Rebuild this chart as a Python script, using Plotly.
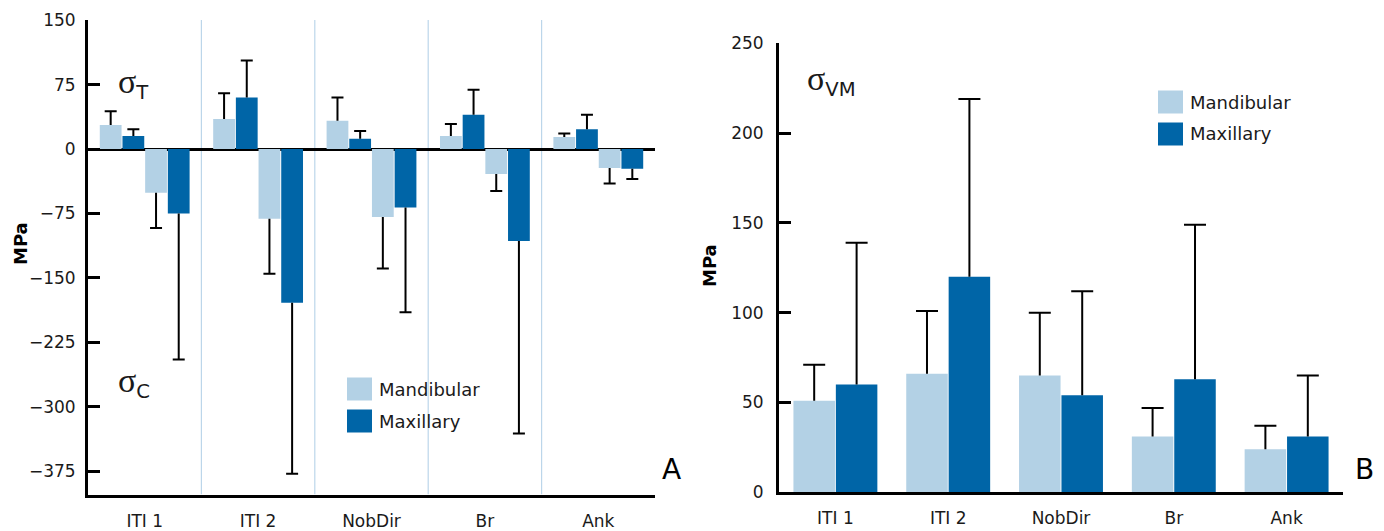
import numpy as np
import plotly.graph_objects as go

# ---------------- data ----------------
categories = ["ITI 1", "ITI 2", "NobDir", "Br", "Ank"]

# Panel A: tensile (sigma_T, positive) and compressive (sigma_C, negative) stress, MPa
tension_mand = [28, 35, 33, 15, 14]
tension_mand_sd = [16, 30, 27, 14, 4]
tension_max = [15, 60, 12, 40, 23]
tension_max_sd = [8, 43, 9, 29, 17]
compress_mand = [-51, -81, -79, -29, -22]
compress_mand_sd = [41, 64, 60, 20, 18]
compress_max = [-75, -179, -68, -107, -23]
compress_max_sd = [170, 199, 122, 224, 12]

# Panel B: von Mises stress, MPa
vm_mand = [51, 66, 65, 31, 24]
vm_mand_sd = [20, 35, 35, 16, 13]
vm_max = [60, 120, 54, 63, 31]
vm_max_sd = [79, 99, 58, 86, 34]

ticks_a = [-375, -300, -225, -150, -75, 0, 75, 150]
ticks_b = [0, 50, 100, 150, 200, 250]
series_names = ["Mandibular", "Maxillary"]

# ---------------- style ----------------
W, H = 1384, 531
LIGHT = "#b3d1e5"
DARK = "#0065a7"
SEP = "#bcd6ea"
TXT = "#1a1a1a"
FONT = "DejaVu Sans"


def px(x):
    return x / W


def py(y):
    return 1 - y / H


fig = go.Figure()


def add_series(values, sd, color, offset, width, xa, ya, sign, cap):
    v = np.array(values, dtype=float)
    e = np.array(sd, dtype=float)
    z = np.zeros_like(v)
    # the bar with the error stem (no caps)
    fig.add_trace(go.Bar(
        x=categories, y=v, offset=offset, width=width,
        marker=dict(color=color, line=dict(width=0)),
        xaxis=xa, yaxis=ya, showlegend=False,
        error_y=dict(type="data", symmetric=False,
                     array=e if sign > 0 else z,
                     arrayminus=z if sign > 0 else e,
                     width=0, thickness=2, color="black"),
    ))
    # the cap at the end of the error stem
    fig.add_trace(go.Bar(
        x=categories, y=z, base=v + sign * e, offset=offset, width=width,
        marker=dict(color="rgba(0,0,0,0)", line=dict(width=0)),
        xaxis=xa, yaxis=ya, showlegend=False, hoverinfo="skip",
        error_y=dict(type="data", symmetric=True, array=z,
                     width=cap, thickness=2, color="black"),
    ))


# Panel A: four bars per implant
wa = 0.192
add_series(tension_mand, tension_mand_sd, LIGHT, -0.396, wa, "x", "y", 1, 6)
add_series(tension_max, tension_max_sd, DARK, -0.196, wa, "x", "y", 1, 6)
add_series(compress_mand, compress_mand_sd, LIGHT, 0.004, wa, "x", "y", -1, 6)
add_series(compress_max, compress_max_sd, DARK, 0.204, wa, "x", "y", -1, 6)

# Panel B: two bars per implant
wb = 0.368
add_series(vm_mand, vm_mand_sd, LIGHT, -0.372, wb, "x2", "y2", 1, 11)
add_series(vm_max, vm_max_sd, DARK, 0.004, wb, "x2", "y2", 1, 11)

axis_common = dict(showgrid=False, showline=True, linecolor="black", linewidth=3,
                   automargin=False,
                   tickfont=dict(family=FONT, size=17, color=TXT))

fig.update_layout(
    width=W, height=H,
    margin=dict(l=0, r=0, t=0, b=0, pad=0, autoexpand=False),
    paper_bgcolor="white", plot_bgcolor="white",
    barmode="overlay",
    font=dict(family=FONT, color=TXT),
    xaxis=dict(domain=[px(88), px(655)], range=[-0.5, 4.5], type="category",
               ticks="", anchor="y", ticklabelstandoff=9, zeroline=False,
               categoryorder="array", categoryarray=categories, **axis_common),
    yaxis=dict(domain=[py(494.5), py(20.1)], range=[-402, 150], anchor="x",
               tickvals=ticks_a, ticks="inside", ticklen=12, tickwidth=3,
               tickcolor="black", zeroline=True, zerolinecolor="black",
               zerolinewidth=3, ticklabelstandoff=6, **axis_common),
    xaxis2=dict(domain=[px(779), px(1343)], range=[-0.5, 4.5], type="category",
                ticks="", anchor="y2", ticklabelstandoff=8, zeroline=False,
                categoryorder="array", categoryarray=categories, **axis_common),
    yaxis2=dict(domain=[py(492.3), py(43.3)], range=[0, 250], anchor="x2",
                tickvals=ticks_b, ticks="inside", ticklen=12, tickwidth=3,
                tickcolor="black", zeroline=False, ticklabelstandoff=9,
                **axis_common),
)

shapes = []
# light blue separators between implant groups (panel A)
for k in range(len(categories) - 1):
    shapes.append(dict(type="line", xref="x", yref="y", x0=k + 0.5, x1=k + 0.5,
                       y0=-402, y1=150, line=dict(color=SEP, width=1.2),
                       layer="below"))
# legend backgrounds and swatches
legends = [
    dict(box=(338, 362, 492, 456), sw_x=347, rows=(389, 421), tx=377),
    dict(box=(1150, 80, 1300, 155), sw_x=1158, rows=(102, 134), tx=1188),
]
annotations = []
for lg in legends:
    bx0, by0, bx1, by1 = lg["box"]
    shapes.append(dict(type="rect", xref="paper", yref="paper",
                       x0=px(bx0), x1=px(bx1), y0=py(by1), y1=py(by0),
                       fillcolor="white", line=dict(width=0), layer="below"))
    for name, color, yc in zip(series_names, [LIGHT, DARK], lg["rows"]):
        shapes.append(dict(type="rect", xref="paper", yref="paper",
                           x0=px(lg["sw_x"]), x1=px(lg["sw_x"] + 25),
                           y0=py(yc + 11.5), y1=py(yc - 11.5),
                           fillcolor=color, line=dict(width=0), layer="above"))
        annotations.append(dict(xref="paper", yref="paper", x=px(lg["tx"]),
                                y=py(yc), xanchor="left", yanchor="middle",
                                text=name, showarrow=False,
                                font=dict(family=FONT, size=18, color=TXT)))

SIG = '<span style="font-family:Liberation Serif;font-size:34px">σ</span>'
for text, x, y in [(SIG + "<sub>T</sub>", 116, 84),
                   (SIG + "<sub>C</sub>", 116, 382),
                   (SIG + "<sub>VM</sub>", 805, 80)]:
    annotations.append(dict(xref="paper", yref="paper", x=px(x), y=py(y),
                            xanchor="left", yanchor="middle", text=text,
                            showarrow=False,
                            font=dict(family=FONT, size=28, color=TXT)))
for text, x, y in [("A", 671, 469), ("B", 1364, 469)]:
    annotations.append(dict(xref="paper", yref="paper", x=px(x), y=py(y),
                            xanchor="center", yanchor="middle", text=text,
                            showarrow=False,
                            font=dict(family=FONT, size=28, color="black")))
for x, y in [(20, 244), (709, 266)]:
    annotations.append(dict(xref="paper", yref="paper", x=px(x), y=py(y),
                            xanchor="center", yanchor="middle", text="<b>MPa</b>",
                            textangle=-90, showarrow=False,
                            font=dict(family=FONT, size=18, color="black")))

fig.update_layout(shapes=shapes, annotations=annotations)
fig.write_html("out.html", config={"displayModeBar": False},
               post_script="document.body.style.margin='0';"
                           "document.body.style.overflow='hidden';")
